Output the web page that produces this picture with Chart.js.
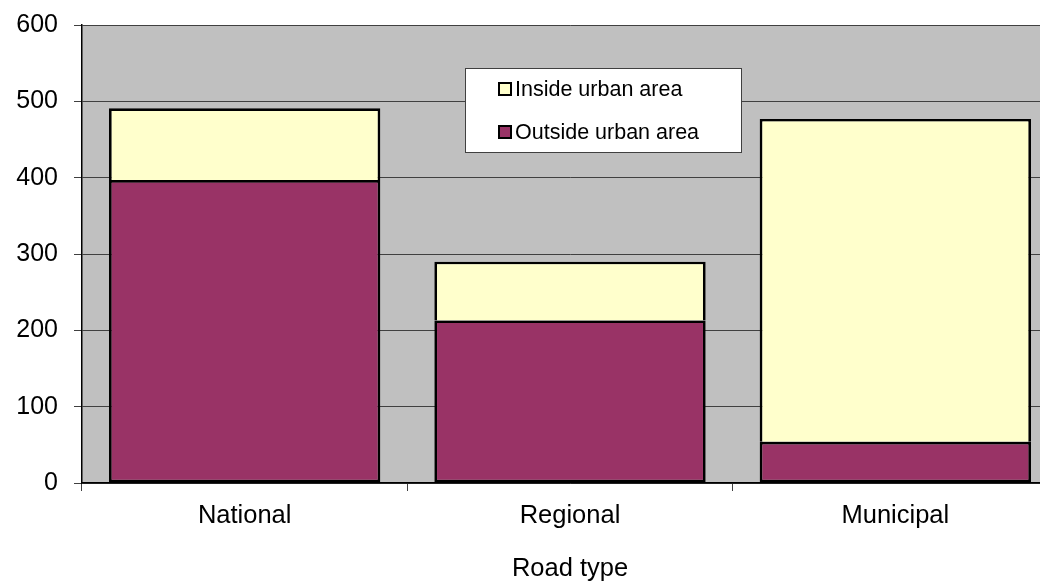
<!DOCTYPE html>
<html>
<head>
<meta charset="utf-8">
<script src="https://cdn.jsdelivr.net/npm/chart.js@4.4.1/dist/chart.umd.min.js"></script>
<style>
  html, body { margin: 0; padding: 0; background: #fff; overflow: hidden; }
  #wrap { width: 1058px; height: 581px; }
</style>
</head>
<body>
<div id="wrap"><canvas id="chart"></canvas></div>
<script>
const roadTypes = ["National", "Regional", "Municipal"];
const outsideUrban = [397, 213, 54];
const insideUrban = [94, 77, 423];
const yTicks = [0, 100, 200, 300, 400, 500, 600];

const FONT = "'Liberation Sans', Arial, sans-serif";

// grey plot background + the legend box sitting inside the plot
const plotBack = {
    id: "plotBack",
    beforeDraw(chart) {
        const a = chart.chartArea, ctx = chart.ctx;
        ctx.save();
        ctx.fillStyle = "#C0C0C0";
        ctx.fillRect(a.left, a.top, a.right - a.left, a.bottom - a.top);
        ctx.restore();
    },
    afterDraw(chart) {
        const a = chart.chartArea, ctx = chart.ctx;
        const x = a.left + 383, y = a.top + 43, w = 276, h = 84;
        ctx.save();
        ctx.fillStyle = "#fff";
        ctx.fillRect(x, y, w, h);
        ctx.strokeStyle = "#404040";
        ctx.lineWidth = 1;
        ctx.strokeRect(x + 0.5, y + 0.5, w, h);
        const items = chart.data.datasets.slice().reverse();
        ctx.font = "21.5px " + FONT;
        ctx.textBaseline = "middle";
        items.forEach((ds, i) => {
            const cy = y + 21 + i * 43;
            ctx.fillStyle = ds.backgroundColor;
            ctx.fillRect(x + 34, cy - 6, 12, 12);
            ctx.strokeStyle = "#000";
            ctx.lineWidth = 2;
            ctx.strokeRect(x + 34, cy - 6, 12, 12);
            ctx.fillStyle = "#000";
            ctx.fillText(ds.label, x + 50, cy + 1);
        });
        ctx.restore();
    }
};

new Chart(document.getElementById("chart"), {
    type: "bar",
    data: {
        labels: roadTypes,
        datasets: [
            {
                label: "Outside urban area",
                data: outsideUrban,
                backgroundColor: "#993366",
                borderColor: "#000",
                borderWidth: 2.7,
                borderSkipped: false
            },
            {
                label: "Inside urban area",
                data: insideUrban,
                backgroundColor: "#FFFFCC",
                borderColor: "#000",
                borderWidth: 2.7,
                borderSkipped: "bottom"
            }
        ]
    },
    options: {
        responsive: true,
        maintainAspectRatio: false,
        animation: false,
        layout: { padding: { top: 25, right: 0, left: 0, bottom: 0 } },
        datasets: { bar: { categoryPercentage: 1, barPercentage: 0.834 } },
        plugins: {
            legend: { display: false },
            tooltip: { enabled: false }
        },
        scales: {
            x: {
                stacked: true,
                grid: { drawOnChartArea: false, drawTicks: true, tickLength: 8, color: "#404040", offset: true },
                border: { display: true, color: "#000", width: 1.5 },
                ticks: { color: "#000", font: { family: FONT, size: 25.5 }, padding: 10 },
                title: { display: true, text: "Road type", color: "#000", font: { family: FONT, size: 25.5 }, padding: { top: 18, bottom: -3 } },
                afterFit(scale) { scale.height = 98; }
            },
            y: {
                stacked: true,
                min: 0,
                max: 600,
                afterBuildTicks(scale) { scale.ticks = yTicks.map(v => ({ value: v })); },
                grid: { color: "#404040", lineWidth: 1, tickLength: 8 },
                border: { display: true, color: "#000", width: 1.5 },
                ticks: { color: "#000", font: { family: FONT, size: 25, lineHeight: 0.72 }, padding: 16 },
                afterFit(scale) { scale.width = 82; }
            }
        }
    },
    plugins: [plotBack]
});
</script>
</body>
</html>
